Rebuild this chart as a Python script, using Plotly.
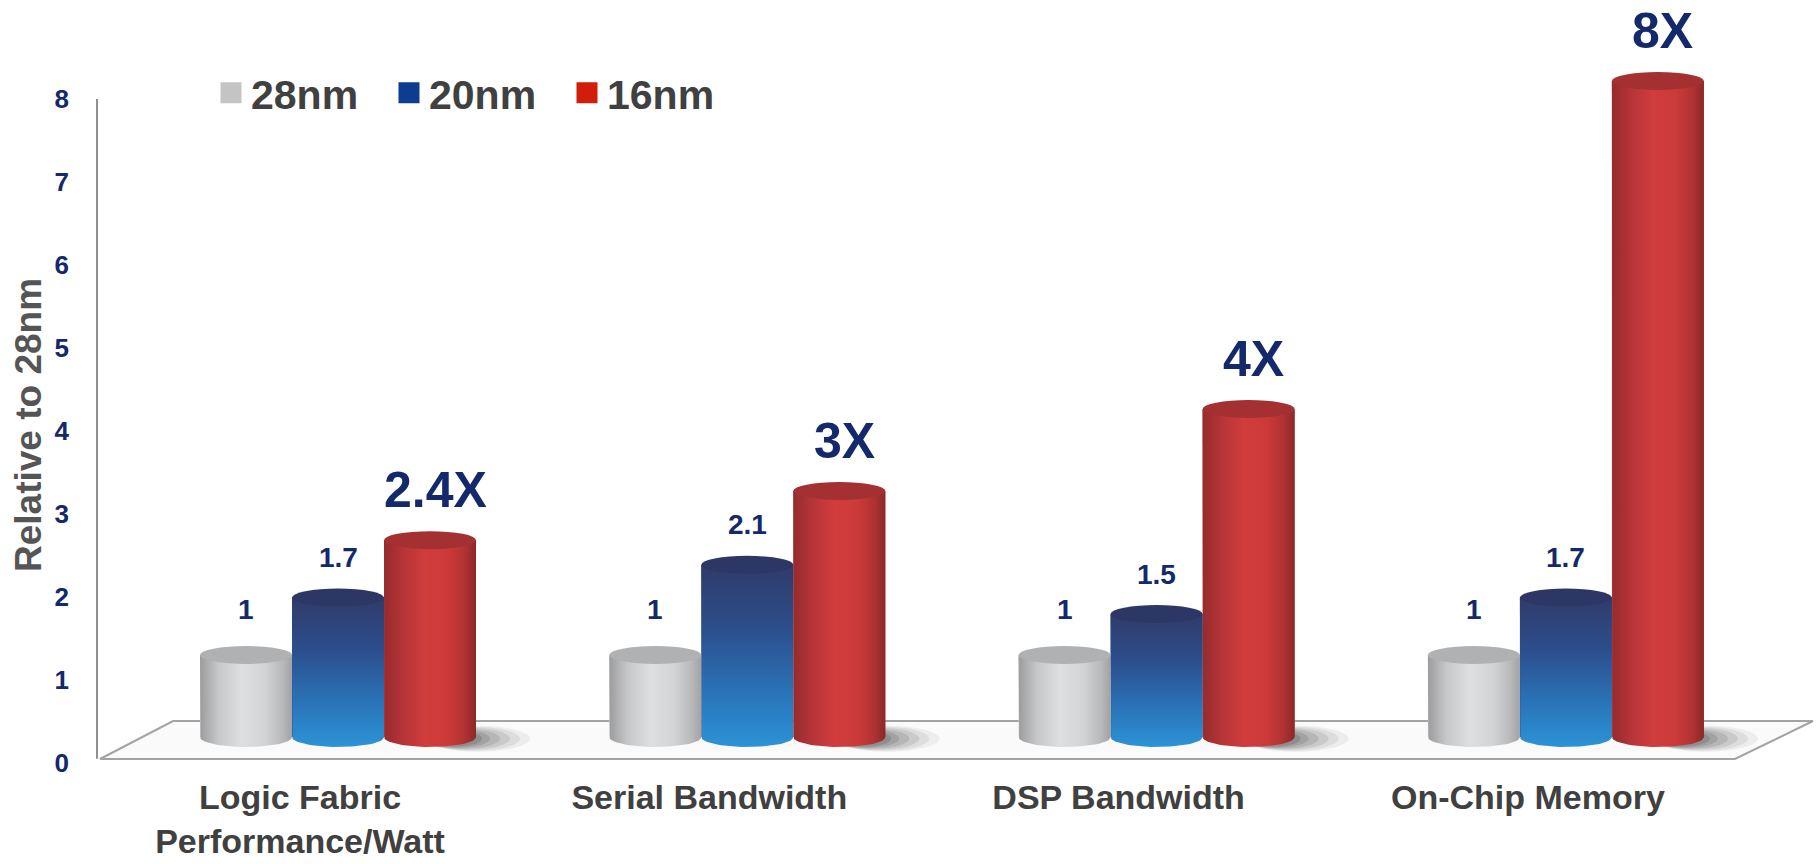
import numpy as np
import plotly.graph_objects as go

# ---------------- data ----------------
categories = ["Logic Fabric<br>Performance/Watt", "Serial Bandwidth", "DSP Bandwidth", "On-Chip Memory"]
series_names = ["28nm", "20nm", "16nm"]
values_28nm = [1, 1, 1, 1]
values_20nm = [1.7, 2.1, 1.5, 1.7]
values_16nm = [2.4, 3, 4, 8]
labels_28nm = ["1", "1", "1", "1"]
labels_20nm = ["1.7", "2.1", "1.5", "1.7"]
labels_16nm = ["2.4X", "3X", "4X", "8X"]
y_ticks = [0, 1, 2, 3, 4, 5, 6, 7, 8]
y_title = "Relative to 28nm"

series_values = [values_28nm, values_20nm, values_16nm]
series_labels = [labels_28nm, labels_20nm, labels_16nm]

# ---------------- geometry / style ----------------
FONT = "Liberation Sans, Arial, sans-serif"
NAVY = "#13296b"
W, H = 1817, 864
L, R, T, B = 97, 0, 30, 90
PW, PH = W - L - R, H - T - B
PB = H - B


def xpaper(px):
    return (px - L) / PW


def ypaper(py):
    return (PB - py) / PH


X0PX, XSTEP = 300, 409.3          # label centre of first category, px per category
x_range = [-(X0PX - L) / XSTEP, -(X0PX - L) / XSTEP + PW / XSTEP]
Y0PX, YSTEP = 763, 83             # tick axis: zero position and px per unit
y_range = [-(PB - Y0PX) / YSTEP, -(PB - Y0PX) / YSTEP + PH / YSTEP]
Y20PX, Y2STEP = 737, 82           # bar axis (perspective floor)
y2_range = [-(PB - Y20PX) / Y2STEP, -(PB - Y20PX) / Y2STEP + PH / Y2STEP]

bar_w = 92 / XSTEP
centre_off = [(38 - 92) / XSTEP, 38 / XSTEP, (38 + 92) / XSTEP]
ry = 10 / Y2STEP

bar_colors = ["#cfd0d2", "#2a5796", "#cc3838"]
cap_colors = ["#b0b1b3", "#2c3766", "#a53032"]
legend_colors = ["#c4c4c4", "#0c3d8e", "#d01e0a"]
gradients = [
    dict(type="horizontal", colorscale=[[0, "#9c9c9e"], [0.2, "#c6c7c9"], [0.45, "#dedfe1"],
                                        [0.7, "#d3d4d6"], [0.9, "#b7b8ba"], [1, "#a2a2a4"]]),
    dict(type="vertical", colorscale=[[0, "#2c93d6"], [0.3, "#2a73b8"], [0.65, "#2c4e8c"],
                                      [1, "#303b6a"]]),
    dict(type="horizontal", colorscale=[[0, "#952b2d"], [0.2, "#b53438"], [0.45, "#d13c3c"],
                                        [0.7, "#cb3a39"], [0.88, "#b03232"], [1, "#8c2828"]]),
]
label_shift = [46, 40, 50]
label_size = [28, 28, 50]

idx = list(range(len(categories)))

fig = go.Figure()

# legend entries
for s, name in enumerate(series_names):
    fig.add_trace(go.Scatter(
        x=[None], y=[None], mode="markers", name=name,
        marker=dict(symbol="square", size=16, color=legend_colors[s],
                    line=dict(width=5, color=legend_colors[s])),
        xaxis="x", yaxis="y", hoverinfo="skip"))

# bars
for s, name in enumerate(series_names):
    fig.add_trace(go.Bar(
        x=idx, y=series_values[s], name=name, showlegend=False,
        width=bar_w, offset=centre_off[s] - bar_w / 2,
        marker=dict(color=bar_colors[s], line=dict(width=0)),
        xaxis="x", yaxis="y2"))

# cylinder shading overlays (same data)
t = np.linspace(np.pi, 2 * np.pi, 40)
for s in range(3):
    for i in idx:
        v = series_values[s][i]
        cx = i + centre_off[s]
        hw = bar_w / 2
        xs = [cx - hw] + list(cx + hw * np.cos(t)) + [cx + hw, cx - hw]
        ys = [v] + list(ry * np.sin(t)) + [v, v]
        fig.add_trace(go.Scatter(
            x=xs, y=ys, mode="lines", fill="toself", fillgradient=gradients[s],
            line=dict(width=0, color="rgba(0,0,0,0)"), showlegend=False,
            hoverinfo="skip", xaxis="x", yaxis="y2"))

shapes = []
# floor
fl = [(100, 759), (1735, 759), (1813, 721), (173, 721)]
path = "M " + " L ".join(f"{xpaper(a):.5f},{ypaper(b):.5f}" for a, b in fl) + " Z"
shapes.append(dict(type="path", path=path, xref="paper", yref="paper", layer="below",
                   fillcolor="#fafafa", line=dict(color="#a3a3a3", width=2)))
# y axis line
shapes.append(dict(type="line", xref="paper", yref="y", x0=0, x1=0, y0=0.05, y1=8,
                   line=dict(color="#8f8f8f", width=2), layer="below"))
# soft shadows to the right of the tallest bar in each group
for i in idx:
    cx = i + centre_off[2]
    for x1, yh, op in [(100, 13, 0.06), (90, 12, 0.08), (80, 11, 0.1),
                       (70, 10, 0.12), (60, 9, 0.14), (52, 8, 0.16)]:
        shapes.append(dict(type="circle", xref="x", yref="y2", xsizemode="pixel",
                           ysizemode="pixel", xanchor=cx, yanchor=-0.02, x0=-5, x1=x1,
                           y0=-yh, y1=yh, fillcolor=f"rgba(40,40,40,{op})",
                           line=dict(width=0), layer="below"))
# top caps
for s in range(3):
    for i in idx:
        v = series_values[s][i]
        cx = i + centre_off[s]
        shapes.append(dict(type="circle", xref="x", yref="y2", ysizemode="pixel",
                           yanchor=v, y0=-9, y1=9, x0=cx - bar_w / 2, x1=cx + bar_w / 2,
                           fillcolor=cap_colors[s], line=dict(width=0), layer="above"))

annotations = []
for s in range(3):
    for i in idx:
        annotations.append(dict(
            x=i + centre_off[s] + (5 if s == 2 else 0) / XSTEP, y=series_values[s][i],
            xref="x", yref="y2", yshift=label_shift[s], text=series_labels[s][i],
            showarrow=False, xanchor="center", yanchor="middle",
            font=dict(family=FONT, size=label_size[s], color=NAVY, weight="bold")))
annotations.append(dict(
    x=xpaper(28), y=ypaper(425), xref="paper", yref="paper", text=y_title,
    textangle=-90, showarrow=False, xanchor="center", yanchor="middle",
    font=dict(family=FONT, size=37, color="#555555", weight="bold")))

fig.update_layout(
    width=W, height=H, autosize=False,
    margin=dict(l=L, r=R, t=T, b=B, pad=0, autoexpand=False),
    paper_bgcolor="white", plot_bgcolor="white",
    barmode="overlay",
    font=dict(family=FONT),
    showlegend=True,
    legend=dict(orientation="h", x=xpaper(211), xanchor="left", y=ypaper(93),
                yanchor="middle", entrywidth=133, entrywidthmode="pixels",
                font=dict(family=FONT, size=41, color="#404040", weight="bold"),
                bgcolor="rgba(0,0,0,0)", itemclick=False),
    xaxis=dict(range=x_range, tickmode="array", tickvals=idx, ticktext=categories,
               showgrid=False, zeroline=False, showline=False, ticks="", automargin=False,
               tickfont=dict(family=FONT, size=34, color="#404040", weight="bold")),
    yaxis=dict(range=y_range, tickmode="array", tickvals=y_ticks, showgrid=False,
               zeroline=False, showline=False, ticks="", ticklabelstandoff=27, automargin=False,
               tickfont=dict(family=FONT, size=26, color=NAVY, weight="bold")),
    yaxis2=dict(range=y2_range, overlaying="y", visible=False, automargin=False),
    shapes=shapes,
    annotations=annotations,
)

fig.write_html("out.html")
